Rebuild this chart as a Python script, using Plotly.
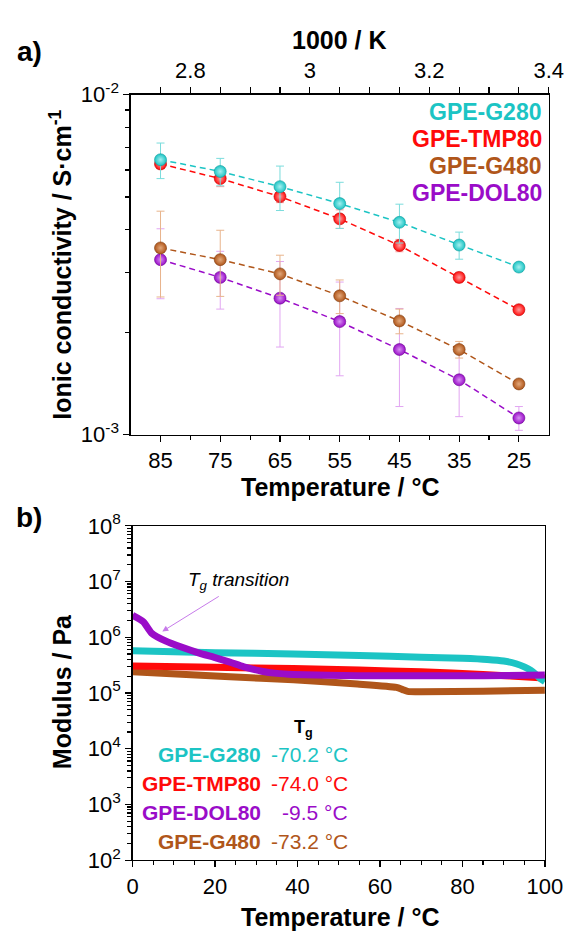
import plotly.graph_objects as go

W, H = 584, 942
FONT = "Liberation Sans, Arial, sans-serif"


def fx(p):
    return p / W


def fy(p):
    return 1 - p / H


# ---------------- panel a) data ----------------
temps = [85, 75, 65, 55, 45, 35, 25]
temp_labels = ["85", "75", "65", "55", "45", "35", "25"]
inv_ticks = [2.8, 3.0, 3.2, 3.4]
inv_labels = ["2.8", "3", "3.2", "3.4"]
inv_minor = [2.75, 2.85, 2.9, 2.95, 3.05, 3.1, 3.15, 3.25, 3.3, 3.35]

g280 = [6.43e-3, 5.94e-3, 5.36e-3, 4.78e-3, 4.21e-3, 3.61e-3, 3.11e-3]
g280_err = [0.77e-3, 0.55e-3, 0.80e-3, 0.74e-3, 0.55e-3, 0.33e-3, 0.05e-3]
tmp80 = [6.25e-3, 5.66e-3, 5.01e-3, 4.31e-3, 3.60e-3, 2.90e-3, 2.33e-3]
tmp80_err = [0.20e-3, 0.30e-3, 0.20e-3, 0.27e-3, 0.15e-3, 0.10e-3, 0.04e-3]
g480 = [3.54e-3, 3.27e-3, 2.97e-3, 2.56e-3, 2.16e-3, 1.78e-3, 1.41e-3]
g480_err = [1.00e-3, 0.72e-3, 0.40e-3, 0.29e-3, 0.18e-3, 0.10e-3, 0.03e-3]
dol80 = [3.27e-3, 2.90e-3, 2.52e-3, 2.15e-3, 1.78e-3, 1.45e-3, 1.12e-3]
dol80_err = [0.76e-3, 0.56e-3, 0.71e-3, 0.66e-3, 0.57e-3, 0.32e-3, 0.09e-3]

# ---------------- panel b) data ----------------
t_g280 = [0, 10, 20, 39, 55, 70, 80, 86, 90, 93, 95, 96.5, 98, 98.8, 100]
m_g280 = [5.7e5, 5.5e5, 5.3e5, 5.0e5, 4.7e5, 4.4e5, 4.2e5, 4.0e5, 3.75e5,
          3.35e5, 2.95e5, 2.57e5, 2.1e5, 1.84e5, 1.6e5]
t_tmp80 = [0, 20, 39, 55, 70, 85, 98.8, 100]
m_tmp80 = [3.05e5, 2.9e5, 2.74e5, 2.58e5, 2.4e5, 2.15e5, 1.88e5, 1.85e5]
t_g480 = [0, 23.6, 39, 54.5, 64, 65.5, 66.7, 70, 85, 100]
m_g480 = [2.4e5, 1.95e5, 1.72e5, 1.45e5, 1.26e5, 1.15e5, 1.07e5, 1.05e5, 1.08e5, 1.12e5]
t_dol80 = [0, 2.6, 4.6, 8.1, 12, 15.8, 20, 23.6, 27, 31.3, 35, 39, 54.6, 85, 100]
m_dol80 = [2.48e6, 1.9e6, 1.19e6, 8.5e5, 6.6e5, 5.3e5, 4.3e5, 3.57e5, 2.95e5,
           2.46e5, 2.25e5, 2.15e5, 2.04e5, 2.04e5, 2.1e5]

names = ["GPE-G280", "GPE-TMP80", "GPE-G480", "GPE-DOL80"]
tg_names = ["GPE-G280", "GPE-TMP80", "GPE-DOL80", "GPE-G480"]
tg_values = ["-70.2 °C", "-74.0 °C", "-9.5 °C", "-73.2 °C"]

C_CYAN = "#1CC4C4"
C_RED = "#FF0A0A"
C_BROWN = "#B0561A"
C_PURPLE = "#9A0CC8"
style = {
    "GPE-G280": dict(c=C_CYAN, light="#A6F0F0", edge="#0E9C9C", err="#7ADCDC"),
    "GPE-TMP80": dict(c=C_RED, light="#FF9C9C", edge="#C00000", err="#FF9A9A"),
    "GPE-G480": dict(c=C_BROWN, light="#E3A97C", edge="#7E3A0E", err="#E8B48C"),
    "GPE-DOL80": dict(c=C_PURPLE, light="#D690F2", edge="#6A0890", err="#E2A6F2"),
}
series_a = {
    "GPE-G280": (g280, g280_err),
    "GPE-TMP80": (tmp80, tmp80_err),
    "GPE-G480": (g480, g480_err),
    "GPE-DOL80": (dol80, dol80_err),
}

fig = go.Figure()

for nm in ["GPE-DOL80", "GPE-G480", "GPE-TMP80", "GPE-G280"]:
    vals, errs = series_a[nm]
    s = style[nm]
    fig.add_trace(go.Scatter(
        x=temps, y=vals, xaxis="x", yaxis="y", mode="lines+markers",
        line=dict(color=s["c"], width=1.5, dash="6px,4px"),
        marker=dict(size=12, color=s["c"],
                    gradient=dict(type="radial", color=s["light"]),
                    line=dict(color=s["edge"], width=0.6)),
        error_y=dict(type="data", array=errs, visible=True, color=s["err"],
                     thickness=1, width=4),
        showlegend=False, hoverinfo="skip"))

# empty trace so that the top (1000 / K) axis is drawn
fig.add_trace(go.Scatter(x=inv_ticks, y=[None] * len(inv_ticks), xaxis="x3", yaxis="y",
                         mode="markers", showlegend=False, hoverinfo="skip"))

series_b = [
    ("GPE-G480", t_g480, m_g480),
    ("GPE-TMP80", t_tmp80, m_tmp80),
    ("GPE-G280", t_g280, m_g280),
    ("GPE-DOL80", t_dol80, m_dol80),
]
for nm, tx, my in series_b:
    fig.add_trace(go.Scatter(
        x=tx, y=my, xaxis="x2", yaxis="y2", mode="lines",
        line=dict(color=style[nm]["c"], width=7, shape="spline", smoothing=0.6),
        showlegend=False, hoverinfo="skip"))

axis_common = dict(showgrid=False, zeroline=False, linecolor="black", linewidth=1.3,
                   ticks="outside", tickcolor="black", tickwidth=1.2, ticklen=6,
                   tickfont=dict(family=FONT, size=22, color="black"))

minor_a = [k * 1e-3 for k in range(2, 10)]
minor_b = [k * 10 ** n for n in range(2, 8) for k in range(2, 10)]

fig.update_layout(
    width=W, height=H, margin=dict(l=0, r=0, t=0, b=0),
    paper_bgcolor="white", plot_bgcolor="white",
    font=dict(family=FONT, color="black"),
    hovermode=False,
    xaxis=dict(axis_common, domain=[fx(130), fx(566)], range=[90, 20], anchor="y",
               tickmode="array", tickvals=temps, ticktext=temp_labels,
               minor=dict(tickvals=[80, 70, 60, 50, 40, 30], ticklen=4,
                          tickcolor="black", ticks="outside", showgrid=False)),
    xaxis3=dict(axis_common, domain=[fx(130), fx(566)], range=[2.7, 3.4], anchor="y",
                overlaying="x", side="top", tickmode="array", tickvals=inv_ticks,
                ticktext=inv_labels, showline=True,
                minor=dict(tickvals=inv_minor, ticklen=6, tickcolor="black",
                           ticks="outside", showgrid=False)),
    yaxis=dict(axis_common, type="log", domain=[fy(432), fy(81)], range=[-3, -2],
               anchor="x", mirror=True, tickmode="array", tickvals=[1e-3, 1e-2],
               ticktext=["10<sup>-3</sup>", "10<sup>-2</sup>"],
               minor=dict(tickvals=minor_a, ticklen=4, tickcolor="black",
                          ticks="outside", showgrid=False)),
    xaxis2=dict(axis_common, domain=[fx(132), fx(562)], range=[0, 100], anchor="y2",
                mirror=True, tickmode="linear", tick0=0, dtick=20,
                minor=dict(dtick=5, tick0=0, ticklen=4, tickcolor="black",
                           ticks="outside", showgrid=False)),
    yaxis2=dict(axis_common, type="log", domain=[fy(871), fy(526)], range=[2, 8],
                anchor="x2", mirror=True, tickmode="array",
                tickvals=[10 ** n for n in range(2, 9)],
                ticktext=["10<sup>%d</sup>" % n for n in range(2, 9)],
                minor=dict(tickvals=minor_b, ticklen=4, tickcolor="black",
                           ticks="outside", showgrid=False)),
)

ann = []


def txt(x, y, text, size, color="black", xanchor="center", angle=0):
    ann.append(dict(x=fx(x), y=fy(y), xref="paper", yref="paper", text=text,
                    showarrow=False, xanchor=xanchor, yanchor="middle",
                    textangle=angle, font=dict(family=FONT, size=size, color=color)))


txt(24, 37, "<b>a)</b>", 28)
txt(24, 517, "<b>b)</b>", 28)
txt(348, 25, "<b>1000 / K</b>", 25)
txt(57, 257, "<b>Ionic conductivity / S·cm<sup>-1</sup></b>", 25, angle=-90)
txt(348, 486, "<b>Temperature / °C</b>", 25)
txt(58, 697, "<b>Modulus / Pa</b>", 25, angle=-90)
txt(348, 930, "<b>Temperature / °C</b>", 25)

for i, nm in enumerate(names):
    txt(561, 99 + 28 * i, "<b>%s</b>" % nm, 23, color=style[nm]["c"], xanchor="right")

txt(310, 735, "<b>T<sub>g</sub></b>", 18)
for i, nm in enumerate(tg_names):
    yy = 762 + 30 * i
    txt(268, yy, "<b>%s</b>" % nm, 21, color=style[nm]["c"], xanchor="right")
    txt(359, yy, tg_values[i], 21, color=style[nm]["c"], xanchor="right")

txt(242, 583, "<i>T<sub>g</sub> transition</i>", 19)

# arrow pointing at the DOL80 transition
ann.append(dict(x=7.2, y=6.104, xref="x2", yref="y2", ax=58, ay=-36,
                axref="pixel", ayref="pixel", text="", showarrow=True,
                arrowhead=2, arrowsize=1.2, arrowwidth=1, arrowcolor="#C77BEA"))

fig.update_layout(annotations=ann)
fig.write_html("out.html", config={"displayModeBar": False, "staticPlot": True},
               post_script="document.body.style.margin='0px';"
                           "document.body.style.padding='0px';")
